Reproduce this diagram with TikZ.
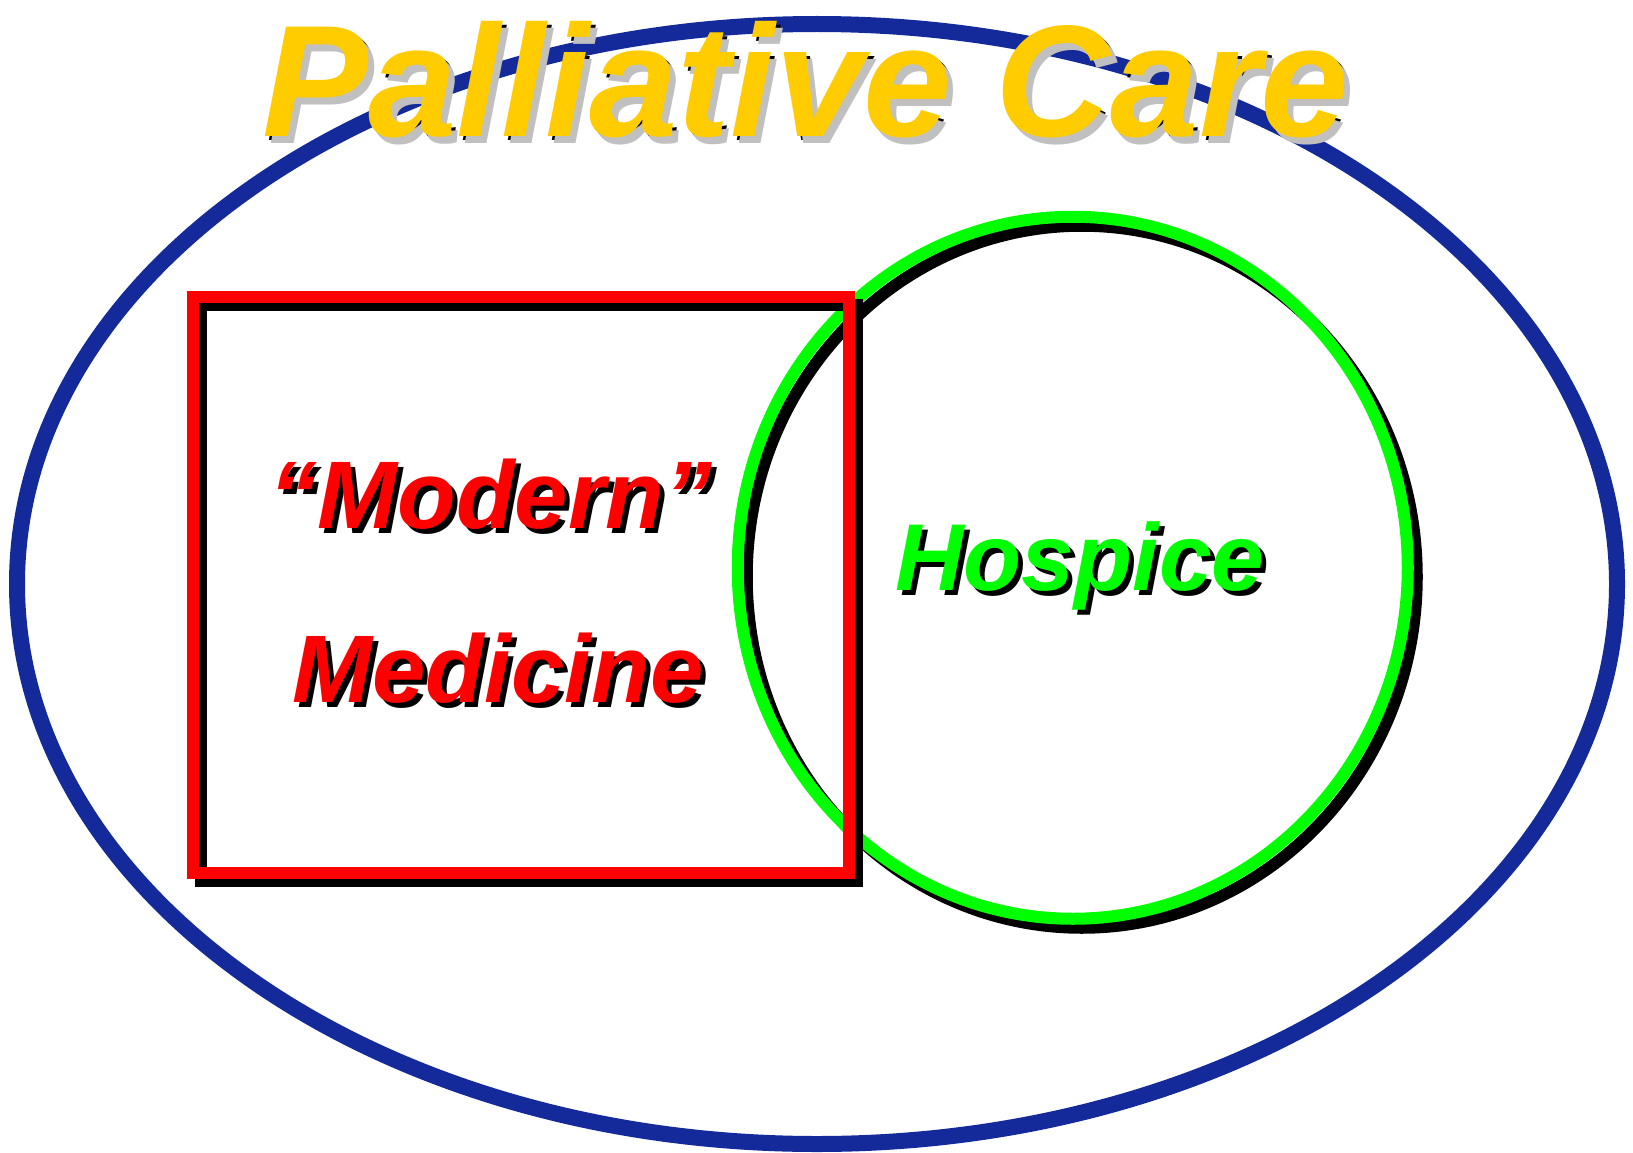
\documentclass[tikz,border=0pt]{standalone}
\usepackage{fontspec}
\setmainfont{Liberation Sans}
\definecolor{ringblue}{RGB}{20,42,155}
\definecolor{titleyellow}{RGB}{255,204,0}
\definecolor{titlegrey}{RGB}{192,192,192}
\definecolor{hosgreen}{RGB}{0,255,0}
\definecolor{medred}{RGB}{255,0,0}
\begin{document}
\begin{tikzpicture}[x=1pt,y=-1pt,
  label text/.style={inner sep=0pt, anchor=base, font=\bfseries\itshape},
  bigtitle/.style={label text, font=\fontsize{159}{159}\selectfont\bfseries\itshape},
  midtitle/.style={label text, font=\fontsize{96}{96}\selectfont\bfseries\itshape},
  outline/.style={line width=12pt}]
\useasboundingbox (0,0) rectangle (1633,1153);
\fill[white] (0,0) rectangle (1633,1153);

% outer ring: palliative care
\draw[ringblue, line width=16pt] (817,584) ellipse [x radius=800, y radius=560];

% hospice ring with its shadow
\draw[outline, black] (1081.75,576.75) ellipse [x radius=335, y radius=351];
\draw[outline, hosgreen] (1072.75,567.75) ellipse [x radius=335, y radius=351];

% modern medicine frame with its shadow
\draw[outline, black] (201,305) rectangle (857,881);
\draw[outline, medred] (193,297) rectangle (849,873);

% title
\node[bigtitle, text=black] (titleS1) at (810,141) {Palliative Care};
\node[bigtitle, text=titlegrey] (titleS2) at (812,143) {Palliative Care};
\node[bigtitle, text=titleyellow] (title) at (806,137) {Palliative Care};

% modern medicine label
\node[midtitle, text=black] (modernS) at (496,533) {“Modern”};
\node[midtitle, text=medred] (modern) at (491,528) {“Modern”};
\node[midtitle, text=black] (medicineS) at (503,707) {Medicine};
\node[midtitle, text=medred] (medicine) at (498,702) {Medicine};

% hospice label
\node[midtitle, font=\fontsize{95}{95}\selectfont\bfseries\itshape, text=black] (hospiceS) at (1085,595) {Hospice};
\node[midtitle, font=\fontsize{95}{95}\selectfont\bfseries\itshape, text=hosgreen] (hospice) at (1080,590) {Hospice};
\end{tikzpicture}
\end{document}
